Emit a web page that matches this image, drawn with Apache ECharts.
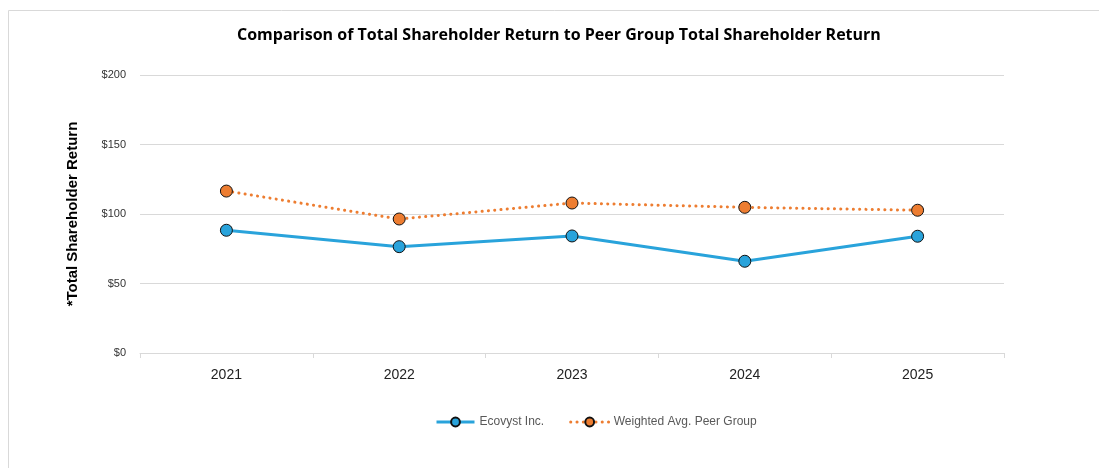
<!DOCTYPE html>
<html>
<head>
<meta charset="utf-8">
<script src="https://cdn.jsdelivr.net/npm/echarts@6/dist/echarts.min.js"></script>
<style>
  html, body { margin: 0; padding: 0; background: #fff; }
  #chart { width: 1099px; height: 468px; }
</style>
</head>
<body>
<div id="chart"></div>
<script>
// data
var years = ['2021', '2022', '2023', '2024', '2025'];
var ecovyst = [88.3, 76.5, 84.2, 66.0, 84.0];
var peerGroup = [116.5, 96.4, 107.9, 104.8, 102.7];
var seriesNames = ['Ecovyst Inc.', 'Weighted Avg. Peer Group'];

var blue = '#29A3DB';
var orange = '#ED7D31';

var myChart = echarts.init(document.getElementById('chart'));
var option = {
  animation: false,
  title: {
    text: 'Comparison of Total Shareholder Return to Peer Group Total Shareholder Return',
    left: 232,
    top: 22,
    textStyle: {
      fontFamily: 'Open Sans',
      fontSize: 16,
      fontWeight: 'bold',
      color: '#000'
    }
  },
  graphic: [
    {
      type: 'rect',
      shape: { x: 8.5, y: 10.5, width: 1200, height: 600 },
      style: { fill: 'none', stroke: '#d9d9d9', lineWidth: 1 },
      silent: true
    }
  ],
  legend: {
    bottom: 35,
    left: 430,
    itemGap: 25,
    itemWidth: 38,
    itemHeight: 11,
    data: seriesNames,
    lineStyle: { width: 3 },
    textStyle: {
      fontFamily: 'Liberation Sans',
      fontSize: 12,
      color: '#595959'
    }
  },
  grid: {
    left: 140,
    right: 95,
    top: 75,
    bottom: 115
  },
  xAxis: {
    type: 'category',
    data: years,
    boundaryGap: true,
    axisLine: { lineStyle: { color: '#d9d9d9', width: 1 } },
    axisTick: { show: true, length: 5, lineStyle: { color: '#d9d9d9' } },
    axisLabel: {
      fontFamily: 'Liberation Sans',
      fontSize: 14,
      color: '#222',
      margin: 15
    }
  },
  yAxis: {
    type: 'value',
    min: 0,
    max: 200,
    interval: 50,
    name: '*Total Shareholder Return',
    nameLocation: 'middle',
    nameGap: 60,
    nameRotate: 90,
    nameTextStyle: {
      fontFamily: 'Liberation Sans',
      fontSize: 15,
      fontWeight: 'bold',
      color: '#000'
    },
    axisLine: { show: false },
    axisTick: { show: false },
    splitLine: { lineStyle: { color: '#d9d9d9', width: 1 } },
    axisLabel: {
      formatter: '${value}',
      fontFamily: 'Liberation Sans',
      fontSize: 11,
      color: '#333',
      margin: 14
    }
  },
  series: [
    {
      name: seriesNames[0],
      type: 'line',
      data: ecovyst,
      symbol: 'circle',
      symbolSize: 12,
      lineStyle: { color: blue, width: 3 },
      itemStyle: { color: blue, borderColor: '#111', borderWidth: 1 }
    },
    {
      name: seriesNames[1],
      type: 'line',
      data: peerGroup,
      symbol: 'circle',
      symbolSize: 12,
      lineStyle: { color: orange, width: 3, type: [0.1, 6.2], cap: 'round' },
      itemStyle: { color: orange, borderColor: '#111', borderWidth: 1 }
    }
  ]
};
myChart.setOption(option);
</script>
</body>
</html>
